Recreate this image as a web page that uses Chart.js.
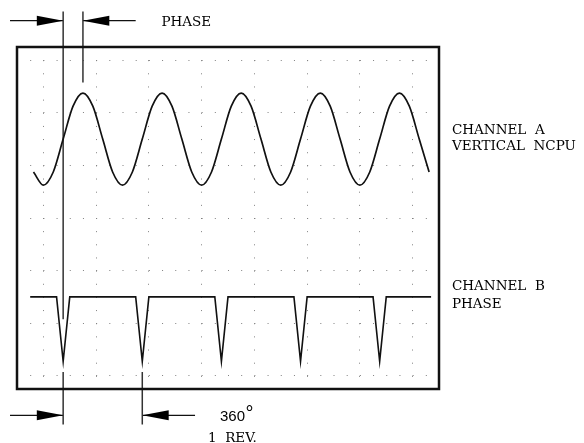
<!DOCTYPE html>
<html><head><meta charset="utf-8">
<script src="https://cdn.jsdelivr.net/npm/chart.js@4.4.1/dist/chart.umd.min.js"></script>
<style>html,body{margin:0;padding:0;background:#fff}#wrap{position:relative;width:584px;height:443px}</style>
</head><body><div id="wrap"><canvas id="c"></canvas></div>
<script>
// grid (in minor-division units)
const gridCols = [1, 5, 9, 13, 17, 21, 25, 29];
const gridRows = [0, 4, 8, 12, 16, 20, 24];

// Channel A : vertical NCPU sine trace
const chanAX = [0.25,1,1.75,2.5,3.25,4,4.75,5.5,6.25,7,7.75,8.5,9.25,10,10.75,11.5,12.25,13,13.75,14.5,15.25,16,16.75,17.5,18.25,19,19.75,20.5,21.25,22,22.75,23.5,24.25,25,25.75,26.5,27.25,28,28.75,29.5,30.25];
const chanAY = [15.5,14.5,15.5,18,20.5,21.5,20.5,18,15.5,14.5,15.5,18,20.5,21.5,20.5,18,15.5,14.5,15.5,18,20.5,21.5,20.5,18,15.5,14.5,15.5,18,20.5,21.5,20.5,18,15.5,14.5,15.5,18,20.5,21.5,20.5,18,15.5];

// Channel B : phase pulse trace
const chanBX = [0,2,2.5,3,8,8.5,9,14,14.5,15,20,20.5,21,26,26.5,27,30.4];
const chanBY = [6,6,1.1,6,6,1.1,6,6,1.1,6,6,1.1,6,6,1.1,6,6];

// marker lines
const phaseLineX = [2.5, 4];
const phaseLineTop = [27.7, 27.7];
const phaseLineBottom = [4.3, 22.3];
const revLineX = [2.5, 8.5];
const revLineTop = [0.3, 0.3];
const revLineBottom = [-3.7, -3.7];

// dimension arrows: tail, tip, head base, row
const arrowTail = [-1.53, 8, -1.53, 12.5];
const arrowTip = [2.5, 4, 2.5, 8.5];
const arrowBase = [0.5, 6, 0.5, 10.5];
const arrowRow = [27, 27, -3, -3];
const arrowHalf = 0.38;

// texts
const textPhase = 'PHASE';
const textChanA = ['CHANNEL  A', 'VERTICAL  NCPU'];
const textChanB = ['CHANNEL  B', 'PHASE'];
const textDeg = '360';
const textDegSign = '°';
const textRev = '1  REV.';

const pts = (xs, ys) => xs.map((x, i) => ({x: x, y: ys[i]}));
const lineDs = (data, color, width, extra) => Object.assign({
  type: 'line', data: data, borderColor: color, borderWidth: width,
  pointRadius: 0, fill: false, tension: 0, clip: false
}, extra || {});

const datasets = [
  lineDs(pts(chanAX, chanAY), '#111', 1.7, {cubicInterpolationMode: 'monotone'}),
  lineDs(pts(chanBX, chanBY), '#111', 1.6),
];
phaseLineX.forEach((x, i) => datasets.push(lineDs(pts([x, x], [phaseLineTop[i], phaseLineBottom[i]]), '#333', 1.5)));
revLineX.forEach((x, i) => datasets.push(lineDs(pts([x, x], [revLineTop[i], revLineBottom[i]]), '#333', 1.5)));
arrowTail.forEach((t, i) => datasets.push(lineDs(pts([t, arrowTip[i]], [arrowRow[i], arrowRow[i]]), '#111', 1.3)));

const annot = {
  id: 'annot',
  afterDatasetsDraw(chart) {
    const ctx = chart.ctx, xs = chart.scales.x, ys = chart.scales.y;
    ctx.save();
    ctx.fillStyle = '#000';
    arrowTip.forEach((tip, i) => {
      const tx = xs.getPixelForValue(tip), bx = xs.getPixelForValue(arrowBase[i]);
      const cy = ys.getPixelForValue(arrowRow[i]);
      const h = Math.abs(ys.getPixelForValue(arrowRow[i] + arrowHalf) - cy);
      ctx.beginPath();
      ctx.moveTo(tx, cy); ctx.lineTo(bx, cy - h); ctx.lineTo(bx, cy + h); ctx.closePath();
      ctx.fill();
    });
    const a = chart.chartArea;
    ctx.strokeStyle = '#111';
    ctx.lineWidth = 2.5;
    ctx.strokeRect(a.left, a.top, a.right - a.left, a.bottom - a.top);
    ctx.restore();
  },
  afterDraw(chart) {
    const ctx = chart.ctx;
    ctx.save();
    ctx.fillStyle = '#000';
    ctx.textBaseline = 'alphabetic';
    ctx.textAlign = 'left';
    ctx.font = '13.5px "DejaVu Serif"';
    ctx.fillText(textPhase, 161.5, 26);
    ctx.fillText(textChanA[0], 452, 133.5);
    ctx.fillText(textChanA[1], 452, 149.5);
    ctx.fillText(textChanB[0], 452, 289.5);
    ctx.fillText(textChanB[1], 452, 308);
    ctx.fillText(textRev, 208, 441.5);
    ctx.font = '15px "Liberation Sans"';
    ctx.fillText(textDeg, 220, 421);
    ctx.font = '20px "Liberation Sans"';
    ctx.fillText(textDegSign, 245.5, 420);
    ctx.restore();
  }
};

new Chart(document.getElementById('c'), {
  type: 'line',
  data: {datasets: datasets},
  options: {
    responsive: true, maintainAspectRatio: false, animation: false, events: [],
    layout: {padding: {left: 17, top: 47, right: 145, bottom: 54}},
    plugins: {legend: {display: false}, tooltip: {enabled: false}, title: {display: false}},
    scales: {
      x: {
        type: 'linear', min: -1, max: 31,
        afterBuildTicks: s => { s.ticks = gridCols.map(v => ({value: v})); },
        ticks: {display: false},
        grid: {color: '#808080', lineWidth: 1, drawTicks: false},
        border: {display: false, dash: [1, 12.154]}
      },
      y: {
        type: 'linear', min: -1, max: 25,
        afterBuildTicks: s => { s.ticks = gridRows.map(v => ({value: v})); },
        ticks: {display: false},
        grid: {color: '#808080', lineWidth: 1, drawTicks: false},
        border: {display: false, dash: [1, 12.1875]}
      }
    }
  },
  plugins: [annot]
});
</script></body></html>
